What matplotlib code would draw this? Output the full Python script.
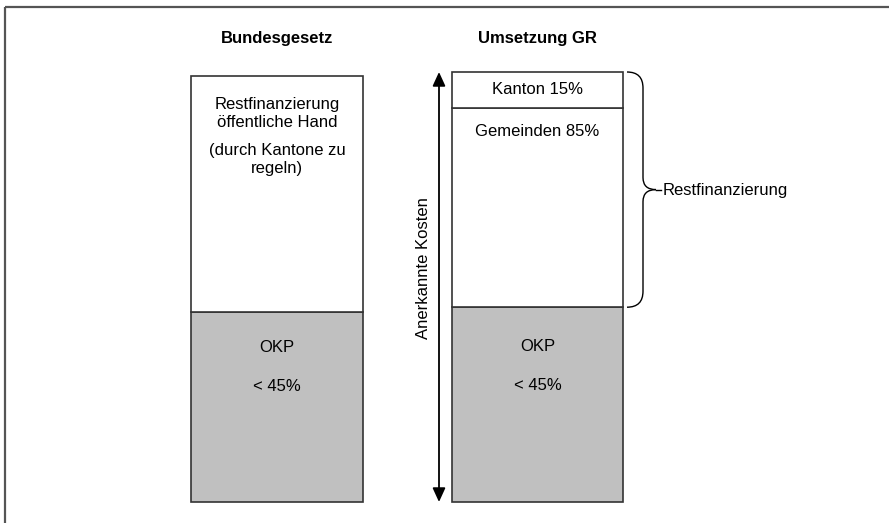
import matplotlib
matplotlib.use("Agg")
import matplotlib.pyplot as plt
from matplotlib.path import Path
from matplotlib.patches import PathPatch, FancyArrowPatch

plt.rcParams['font.family'] = ['Liberation Sans', 'DejaVu Sans']

# ---- data (relative heights, share of recognised costs) ----
column_titles = ["Bundesgesetz", "Umsetzung GR"]
left_segments = ["OKP", "Restfinanzierung"]
left_values = [44.2, 54.9]
right_segments = ["OKP", "Gemeinden", "Kanton"]
right_values = [45.3, 46.3, 8.4]
okp_label = ["OKP", "< 45%"]
left_rest_label = ["Restfinanzierung", "öffentliche Hand", "(durch Kantone zu", "regeln)"]
right_seg_labels = ["Gemeinden 85%", "Kanton 15%"]
brace_label = "Restfinanzierung"
axis_label = "Anerkannte Kosten"

W, H = 889, 523
fig = plt.figure(figsize=(W / 100, H / 100), dpi=100)
ax = fig.add_axes([0, 0, 1, 1])

# pixel-based layout: y=0 at pixel row 502, 4.3 px per unit
PX_PER_UNIT = 4.3
BASE_ROW = 502
ax.set_xlim(0, W)
ax.set_ylim(-(H - BASE_ROW) / PX_PER_UNIT, BASE_ROW / PX_PER_UNIT)
ax.axis('off')


def yr(row):
    """convert pixel row (from top) to data y"""
    return (BASE_ROW - row) / PX_PER_UNIT


GRAY = "#c0c0c0"
EDGE = "#333333"
FS = 12

# bars
left_x, left_w = 277, 172
right_x, right_w = 537.5, 171
left_colors = [GRAY, "white"]
right_colors = [GRAY, "white", "white"]

bottom = 0
for v, c in zip(left_values, left_colors):
    ax.bar(left_x, v, width=left_w, bottom=bottom, color=c, edgecolor=EDGE, linewidth=1.2)
    bottom += v
bottom = 0
for v, c in zip(right_values, right_colors):
    ax.bar(right_x, v, width=right_w, bottom=bottom, color=c, edgecolor=EDGE, linewidth=1.2)
    bottom += v

# titles
ax.text(left_x, yr(43), column_titles[0], ha='center', va='baseline', fontsize=FS, fontweight='bold')
ax.text(right_x, yr(43), column_titles[1], ha='center', va='baseline', fontsize=FS, fontweight='bold')

# left bar texts
for row, s in zip([109, 127, 155, 173], left_rest_label):
    ax.text(left_x, yr(row), s, ha='center', va='baseline', fontsize=FS)
ax.text(left_x, yr(352), okp_label[0], ha='center', va='baseline', fontsize=FS)
ax.text(left_x, yr(391), okp_label[1], ha='center', va='baseline', fontsize=FS)

# right bar texts
ax.text(right_x, yr(94), right_seg_labels[1], ha='center', va='baseline', fontsize=FS)
ax.text(right_x, yr(136), right_seg_labels[0], ha='center', va='baseline', fontsize=FS)
ax.text(right_x, yr(351), okp_label[0], ha='center', va='baseline', fontsize=FS)
ax.text(right_x, yr(390), okp_label[1], ha='center', va='baseline', fontsize=FS)

# double arrow
right_total = sum(right_values)
arr = FancyArrowPatch((439, 0), (439, right_total), arrowstyle='<|-|>,head_length=7,head_width=3.2',
                      mutation_scale=1.2, color='black', linewidth=1.3, shrinkA=0, shrinkB=0)
ax.add_patch(arr)
ax.text(428, yr(268), axis_label, rotation=90, rotation_mode='anchor', ha='center', va='baseline', fontsize=FS)

# brace over the Restfinanzierung part of right bar
top_y = right_total
bot_y = right_values[0]
mid_y = (top_y + bot_y) / 2
x0, x1, xt = 627, 643, 656
r = 16 / PX_PER_UNIT
rt = 12 / PX_PER_UNIT
upper = Path([(x0, top_y), (x1, top_y), (x1, top_y - r), (x1, mid_y + rt), (x1, mid_y), (xt, mid_y)],
             [Path.MOVETO, Path.CURVE3, Path.CURVE3, Path.LINETO, Path.CURVE3, Path.CURVE3])
lower = Path([(xt, mid_y), (x1, mid_y), (x1, mid_y - rt), (x1, bot_y + r), (x1, bot_y), (x0, bot_y)],
             [Path.MOVETO, Path.CURVE3, Path.CURVE3, Path.LINETO, Path.CURVE3, Path.CURVE3])
for p in (upper, lower):
    ax.add_patch(PathPatch(p, facecolor='none', edgecolor='black', linewidth=1.0))
ax.plot([xt, 661], [mid_y, mid_y], color='black', linewidth=1.0)
ax.text(663, yr(195), brace_label, ha='left', va='baseline', fontsize=FS)

# outer frame (top and left lines)
ax.plot([5, W], [yr(7), yr(7)], color='#555555', linewidth=1.6, solid_capstyle='butt')
ax.plot([5, 5], [yr(7), yr(H + 5)], color='#555555', linewidth=1.6, solid_capstyle='butt')

fig.savefig("out.png", dpi=100)
